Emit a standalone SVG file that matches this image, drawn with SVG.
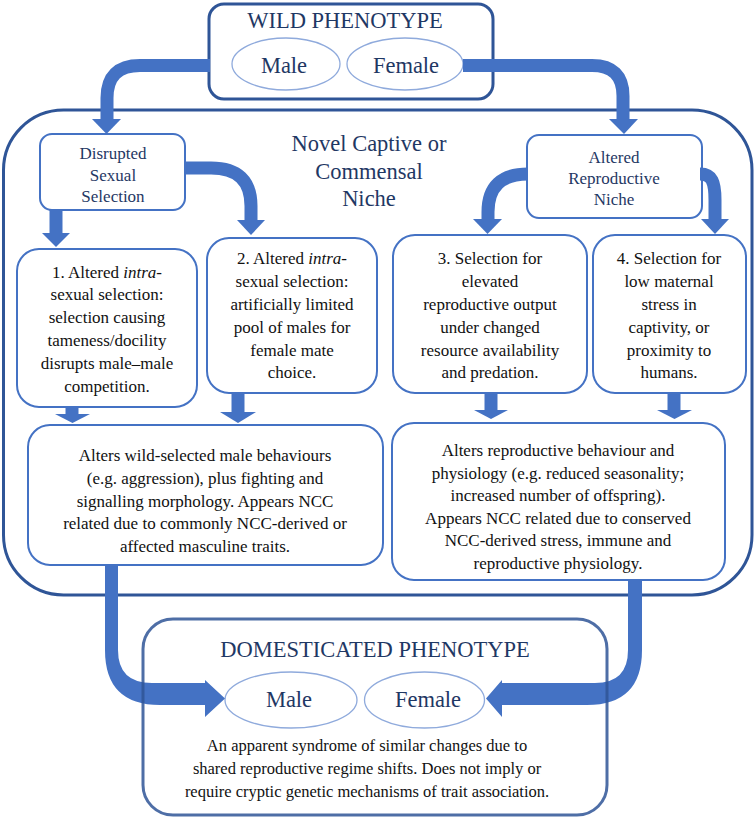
<svg xmlns="http://www.w3.org/2000/svg" width="756" height="819" viewBox="0 0 756 819">
<style>
  .outer { fill: none; stroke: #2F5597; stroke-width: 3; }
  .inner { fill: #FFFFFF; stroke: #4472C4; stroke-width: 2; }
  .ell { fill: #FFFFFF; stroke: #8FAADC; stroke-width: 1.3; }
  .title { font-family: "Liberation Serif", "Times New Roman", serif; font-size: 22.5px; fill: #1F3864; text-anchor: middle; }
  .sub { font-family: "Liberation Serif", "Times New Roman", serif; font-size: 17px; fill: #1F3864; text-anchor: middle; }
  .body { font-family: "Liberation Serif", "Times New Roman", serif; font-size: 17px; fill: #111111; text-anchor: middle; }
  .small { font-family: "Liberation Serif", "Times New Roman", serif; font-size: 16.5px; fill: #111111; text-anchor: middle; }
  .shaft { fill: none; stroke: #4472C4; stroke-width: 13; }
  .head { fill: #4472C4; }
</style>
<rect width="756" height="819" fill="#FFFFFF"/>

<g id="novel-niche">
  <rect class="outer" x="3.5" y="110" width="748.5" height="485" rx="60" ry="60" fill="#FFFFFF"/>
  <text class="title" x="369" y="151">Novel Captive or</text>
  <text class="title" x="369" y="179">Commensal</text>
  <text class="title" x="369" y="206">Niche</text>
</g>

<g id="wild-phenotype">
  <rect class="outer" x="209" y="4" width="284" height="95" rx="15" ry="15" fill="#FFFFFF"/>
  <text class="title" x="345" y="28">WILD PHENOTYPE</text>
  <ellipse class="ell" cx="286" cy="64" rx="54" ry="26"/>
  <text class="title" x="284" y="73">Male</text>
  <ellipse class="ell" cx="405" cy="64" rx="58" ry="26"/>
  <text class="title" x="406" y="73">Female</text>
</g>

<g id="disrupted-sexual-selection">
  <rect class="inner" x="40" y="134" width="145" height="76" rx="12" ry="12"/>
  <text class="sub" x="113" y="159">Disrupted</text>
  <text class="sub" x="113" y="181">Sexual</text>
  <text class="sub" x="113" y="202">Selection</text>
</g>

<g id="altered-reproductive-niche">
  <rect class="inner" x="527" y="135" width="175" height="83" rx="12" ry="12"/>
  <text class="sub" x="614" y="163">Altered</text>
  <text class="sub" x="614" y="184">Reproductive</text>
  <text class="sub" x="614" y="205">Niche</text>
</g>

<g id="box1">
  <rect class="inner" x="17" y="249" width="180" height="158" rx="22" ry="22"/>
  <text class="body" x="107" y="278">1. Altered <tspan font-style="italic">intra</tspan>-</text>
  <text class="body" x="107" y="300">sexual selection:</text>
  <text class="body" x="107" y="323">selection causing</text>
  <text class="body" x="107" y="346">tameness/docility</text>
  <text class="body" x="107" y="369">disrupts male–male</text>
  <text class="body" x="107" y="392">competition.</text>
</g>

<g id="box2">
  <rect class="inner" x="207" y="238" width="170" height="155" rx="22" ry="22"/>
  <text class="body" x="292" y="264">2. Altered <tspan font-style="italic">intra</tspan>-</text>
  <text class="body" x="292" y="287">sexual selection:</text>
  <text class="body" x="292" y="310">artificially limited</text>
  <text class="body" x="292" y="333">pool of males for</text>
  <text class="body" x="292" y="356">female mate</text>
  <text class="body" x="292" y="378">choice.</text>
</g>

<g id="box3">
  <rect class="inner" x="393" y="235" width="194" height="158" rx="22" ry="22"/>
  <text class="body" x="490" y="264">3. Selection for</text>
  <text class="body" x="490" y="287">elevated</text>
  <text class="body" x="490" y="310">reproductive output</text>
  <text class="body" x="490" y="333">under changed</text>
  <text class="body" x="490" y="356">resource availability</text>
  <text class="body" x="490" y="378">and predation.</text>
</g>

<g id="box4">
  <rect class="inner" x="593" y="235" width="153" height="158" rx="22" ry="22"/>
  <text class="body" x="669" y="264">4. Selection for</text>
  <text class="body" x="669" y="287">low maternal</text>
  <text class="body" x="669" y="310">stress in</text>
  <text class="body" x="669" y="333">captivity, or</text>
  <text class="body" x="669" y="356">proximity to</text>
  <text class="body" x="669" y="378">humans.</text>
</g>

<g id="male-outcome">
  <rect class="inner" x="28" y="425" width="355" height="140" rx="22" ry="22"/>
  <text class="body" x="205" y="461">Alters wild-selected male behaviours</text>
  <text class="body" x="205" y="484">(e.g. aggression), plus fighting and</text>
  <text class="body" x="205" y="507">signalling morphology. Appears NCC</text>
  <text class="body" x="205" y="529">related due to commonly NCC-derived or</text>
  <text class="body" x="205" y="552">affected masculine traits.</text>
</g>

<g id="female-outcome">
  <rect class="inner" x="392" y="423" width="333" height="157" rx="22" ry="22"/>
  <text class="body" x="558" y="456">Alters reproductive behaviour and</text>
  <text class="body" x="558" y="479">physiology (e.g. reduced seasonality;</text>
  <text class="body" x="558" y="501">increased number of offspring).</text>
  <text class="body" x="558" y="524">Appears NCC related due to conserved</text>
  <text class="body" x="558" y="546">NCC-derived stress, immune and</text>
  <text class="body" x="558" y="569">reproductive physiology.</text>
</g>

<g id="domesticated-phenotype">
  <rect x="143" y="619" width="464" height="196" rx="30" ry="30" fill="#FFFFFF"/>
  <text class="title" x="375" y="657">DOMESTICATED PHENOTYPE</text>
  <ellipse class="ell" cx="291" cy="700" rx="66" ry="28"/>
  <text class="title" x="289" y="707">Male</text>
  <ellipse class="ell" cx="424.5" cy="700" rx="60" ry="28"/>
  <text class="title" x="428" y="707">Female</text>
  <text class="small" x="367" y="751">An apparent syndrome of similar changes due to</text>
  <text class="small" x="367" y="774">shared reproductive regime shifts. Does not imply or</text>
  <text class="small" x="367" y="797">require cryptic genetic mechanisms of trait association.</text>
</g>

<g id="connectors">
  <!-- wild to disrupted -->
  <path class="shaft" d="M 210 65.5 H 140 Q 107 65.5 107 98 V 121"/>
  <polygon class="head" points="92,119 121,119 106.5,134"/>
  <!-- wild to altered reproductive niche -->
  <path class="shaft" d="M 463 65.5 H 592 Q 623 65.5 623 96 V 121"/>
  <polygon class="head" points="609,119 638,119 624,134"/>
  <!-- disrupted to box1 -->
  <path class="shaft" d="M 56 210 V 235"/>
  <polygon class="head" points="42,233 70,233 56,247"/>
  <!-- disrupted to box2 -->
  <path class="shaft" d="M 185 168 H 211 Q 251 168 251 206 V 222"/>
  <polygon class="head" points="237,220 265,220 251,235"/>
  <!-- ARN to box3 -->
  <path class="shaft" d="M 528 174 Q 488 174 488 212 V 221"/>
  <polygon class="head" points="473,219 502,219 487.5,234"/>
  <!-- ARN to box4 -->
  <path class="shaft" d="M 700 174 C 712 174 715 182 715 200 V 221"/>
  <polygon class="head" points="701,219 729,219 715,234"/>
  <!-- box1 to male outcome -->
  <path class="shaft" d="M 72 407 V 415"/>
  <polygon class="head" points="55,414 90,414 72.5,423"/>
  <!-- box2 to male outcome -->
  <path class="shaft" d="M 238 393 V 413"/>
  <polygon class="head" points="220,412 256,412 238,423"/>
  <!-- box3 to female outcome -->
  <path class="shaft" d="M 491 393 V 411"/>
  <polygon class="head" points="474,410 508,410 491,419"/>
  <!-- box4 to female outcome -->
  <path class="shaft" d="M 674 393 V 411"/>
  <polygon class="head" points="657,410 692,410 674.5,419"/>
  <!-- male outcome to domesticated male -->
  <path class="head" d="M 105 565 V 650 Q 105 705 160 705 H 205 V 717 L 225 698.5 L 205 680 V 683 H 152 Q 118 683 118 650 V 565 Z"/>
  <!-- female outcome to domesticated female -->
  <path class="head" d="M 642 580 V 650 Q 642 705 587 705 H 502 V 717 L 486 698.5 L 502 680 V 683 H 595 Q 628 683 628 650 V 580 Z"/>
</g>

<rect class="outer" x="143" y="619" width="464" height="196" rx="30" ry="30" stroke-opacity="0.85"/>
</svg>
